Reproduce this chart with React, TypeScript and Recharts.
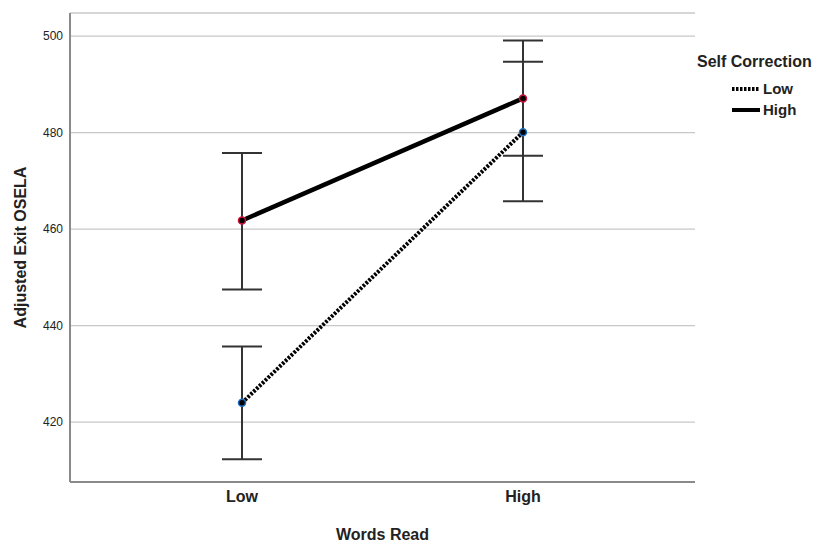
import React from 'react';
import {
  LineChart,
  Line,
  XAxis,
  YAxis,
  CartesianGrid,
  ErrorBar,
} from 'recharts';

const categories = ['Low', 'High'];
const seriesNames = ['Low', 'High'];

// Self Correction = Low (dotted)
const lowMeans = [424.0, 480.1];
const lowCiLower = [412.3, 465.8];
const lowCiUpper = [435.7, 494.7];

// Self Correction = High (solid)
const highMeans = [461.8, 487.1];
const highCiLower = [447.5, 475.2];
const highCiUpper = [475.8, 499.1];

const yTicks = [420, 440, 460, 480, 500];

const data = categories.map((name, i) => ({
  name,
  low: lowMeans[i],
  lowErr: [lowMeans[i] - lowCiLower[i], lowCiUpper[i] - lowMeans[i]],
  high: highMeans[i],
  highErr: [highMeans[i] - highCiLower[i], highCiUpper[i] - highMeans[i]],
}));

const font = 'Liberation Sans, Arial, sans-serif';

const App = () => {
  return (
    <div style={{ position: 'absolute', left: 0, top: 0, width: 831, height: 542, background: '#fff', fontFamily: font }}>
      <LineChart
        width={831}
        height={542}
        data={data}
        margin={{ top: 13, right: 136, bottom: 0, left: 0 }}
      >
        <CartesianGrid vertical={false} stroke="#c8c8c8" strokeWidth={1.3} />
        <XAxis
          dataKey="name"
          height={60}
          padding={{ left: 172, right: 172 }}
          tickLine={false}
          tickSize={0}
          tickMargin={9}
          axisLine={{ stroke: '#8a8a8a', strokeWidth: 2 }}
          tick={{ fill: '#222', fontSize: 16, fontWeight: 'bold', fontFamily: font }}
          label={{
            value: 'Words Read',
            position: 'insideBottom',
            offset: 2,
            style: { fill: '#222', fontSize: 16, fontWeight: 'bold', fontFamily: font },
          }}
        />
        <YAxis
          width={70}
          domain={[407.6, 504.8]}
          ticks={yTicks}
          allowDataOverflow
          tickLine={false}
          tickSize={0}
          tickMargin={7}
          axisLine={{ stroke: '#8a8a8a', strokeWidth: 2 }}
          tick={{ fill: '#222', fontSize: 12, fontFamily: font }}
          label={{
            value: 'Adjusted Exit OSELA',
            angle: -90,
            position: 'insideLeft',
            offset: 20,
            style: { textAnchor: 'middle', fill: '#222', fontSize: 16, fontWeight: 'bold', fontFamily: font },
          }}
        />
        <Line
          dataKey="low"
          name={seriesNames[0]}
          stroke="#000"
          strokeWidth={4}
          strokeDasharray="2.5 1.5"
          dot={{ r: 3.5, fill: '#000', stroke: '#1f6fc0', strokeWidth: 1.5, strokeDasharray: '' }}
          isAnimationActive={false}
        >
          <ErrorBar dataKey="lowErr" width={20} stroke="#333" strokeWidth={2} direction="y" />
        </Line>
        <Line
          dataKey="high"
          name={seriesNames[1]}
          stroke="#000"
          strokeWidth={4.5}
          dot={{ r: 3.5, fill: '#000', stroke: '#d0103a', strokeWidth: 1.5 }}
          isAnimationActive={false}
        >
          <ErrorBar dataKey="highErr" width={20} stroke="#333" strokeWidth={2} direction="y" />
        </Line>
      </LineChart>
      <div style={{ position: 'absolute', left: 697, top: 52, color: '#222', fontWeight: 'bold' }}>
        <div style={{ fontSize: 16, lineHeight: '20px' }}>Self Correction</div>
        <div style={{ marginLeft: 35, marginTop: 6, fontSize: 15 }}>
          {seriesNames.map((s, i) => (
            <div key={s} style={{ display: 'flex', alignItems: 'center', height: 21 }}>
              <svg width={28} height={8} style={{ marginRight: 3 }}>
                <line
                  x1={0}
                  y1={4}
                  x2={28}
                  y2={4}
                  stroke="#000"
                  strokeWidth={4}
                  strokeDasharray={i === 0 ? '2.5 1.5' : undefined}
                />
              </svg>
              <span>{s}</span>
            </div>
          ))}
        </div>
      </div>
    </div>
  );
};

export default App;
